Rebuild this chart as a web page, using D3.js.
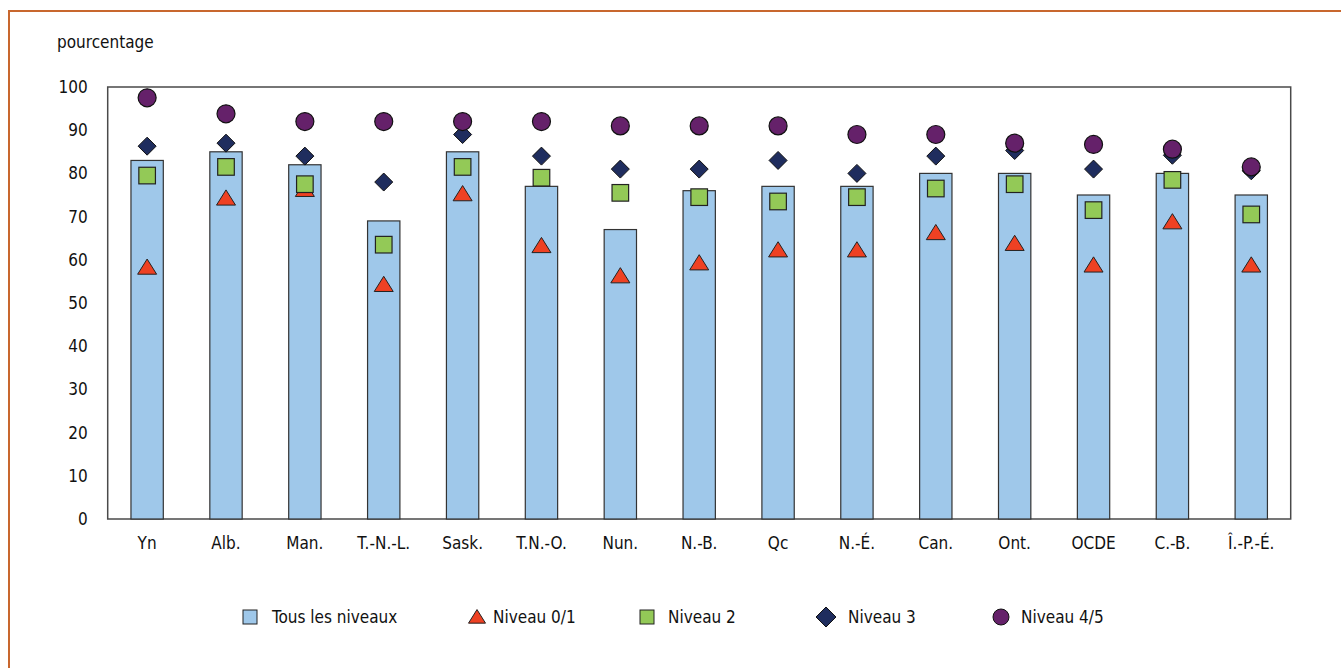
<!DOCTYPE html>
<html><head><meta charset="utf-8">
<script src="https://cdn.jsdelivr.net/npm/d3@7"></script>
<style>
html,body{margin:0;padding:0;background:#fff;}
svg text{font-family:"Liberation Sans Narrow","DejaVu Sans Condensed","Arial Narrow",sans-serif;fill:#111;}
</style></head>
<body>
<svg id="chart" width="1341" height="668"></svg>
<script>
const categories = ["Yn","Alb.","Man.","T.-N.-L.","Sask.","T.N.-O.","Nun.","N.-B.","Qc","N.-É.","Can.","Ont.","OCDE","C.-B.","Î.-P.-É."];
const tousNiveaux = [83,85,82,69,85,77,67,76,77,77,80,80,75,80,75];
const niveau01 = [58,74,76,54,75,63,56,59,62,62,66,63.5,58.5,68.5,58.5];
const niveau2 = [79.5,81.5,77.5,63.5,81.5,79,75.5,74.5,73.5,74.5,76.5,77.5,71.5,78.5,70.5];
const niveau3 = [86.3,87,84,78,89,84,81,81,83,80,84,85.3,81,84.2,80.6];
const niveau45 = [97.5,93.8,92,92,92,92,91,91,91,89,89,87,86.7,85.6,81.5];
const yTicks = [0,10,20,30,40,50,60,70,80,90,100];
const legendLabels = ["Tous les niveaux","Niveau 0/1","Niveau 2","Niveau 3","Niveau 4/5"];

const svg = d3.select("#chart");
const plot = {left:107.7, right:1290.7, top:87, bottom:519};

// outer frame
svg.append("rect").attr("x",9).attr("y",11).attr("width",1340).attr("height",670)
  .attr("fill","none").attr("stroke","#c8672e").attr("stroke-width",2);

const x = d3.scaleBand().domain(categories).range([plot.left, plot.right])
  .paddingInner(0.59).paddingOuter(0.295);
const y = d3.scaleLinear().domain([0,100]).range([plot.bottom, plot.top]);

// plot frame
svg.append("rect").attr("x",plot.left).attr("y",plot.top)
  .attr("width",plot.right-plot.left).attr("height",plot.bottom-plot.top)
  .attr("fill","none").attr("stroke","#4a4a4a").attr("stroke-width",1.5);

// y axis
const yAxis = d3.axisLeft(y).tickValues(yTicks).tickSize(0).tickPadding(20);
const gy = svg.append("g").attr("transform",`translate(${plot.left},0)`).call(yAxis);
gy.select(".domain").remove();
gy.selectAll("text").style("font-size","17px").attr("fill","#111");

// x axis
const xAxis = d3.axisBottom(x).tickSize(0).tickPadding(18);
const gx = svg.append("g").attr("transform",`translate(0,${plot.bottom})`).call(xAxis);
gx.select(".domain").remove();
gx.selectAll("text").style("font-size","17px").attr("fill","#111");

svg.append("text").attr("x",57).attr("y",48).text("pourcentage").style("font-size","17px");

// bars
svg.append("g").selectAll("rect").data(categories).join("rect")
  .attr("x",d=>x(d)).attr("width",x.bandwidth())
  .attr("y",(d,i)=>y(tousNiveaux[i])).attr("height",(d,i)=>y(0)-y(tousNiveaux[i]))
  .attr("fill","#9fc8ea").attr("stroke","#333").attr("stroke-width",1.2);

const cx = d=>x(d)+x.bandwidth()/2;
const colors = {bar:"#9fc8ea", tri:"#ee4123", sq:"#93c957", dia:"#1f2d5e", circ:"#65216a"};

function triPath(s){const h=s*0.8; return `M0,${-h*0.62}L${s/2},${h*0.38}L${-s/2},${h*0.38}Z`;}
function diaPath(s){const h=s/2; return `M0,${-h}L${h},0L0,${h}L${-h},0Z`;}

// triangles
svg.append("g").selectAll("path").data(categories).join("path")
  .attr("d",triPath(19))
  .attr("transform",(d,i)=>`translate(${cx(d)},${y(niveau01[i])})`)
  .attr("fill",colors.tri).attr("stroke","#222").attr("stroke-width",1);
// squares
svg.append("g").selectAll("rect").data(categories).join("rect")
  .attr("x",d=>cx(d)-8.3).attr("y",(d,i)=>y(niveau2[i])-8.3)
  .attr("width",16.6).attr("height",16.6)
  .attr("fill",colors.sq).attr("stroke","#222").attr("stroke-width",1.2);
// diamonds
svg.append("g").selectAll("path").data(categories).join("path")
  .attr("d",diaPath(18))
  .attr("transform",(d,i)=>`translate(${cx(d)},${y(niveau3[i])})`)
  .attr("fill",colors.dia).attr("stroke","#111").attr("stroke-width",1);
// circles
svg.append("g").selectAll("circle").data(categories).join("circle")
  .attr("cx",cx).attr("cy",(d,i)=>y(niveau45[i])).attr("r",9)
  .attr("fill",colors.circ).attr("stroke","#111").attr("stroke-width",1.2);

// legend
const legX = [250,477,647,826,1001];
const ly = 617;
const lg = svg.append("g");
lg.append("rect").attr("x",legX[0]-7).attr("y",ly-7).attr("width",14).attr("height",14)
  .attr("fill",colors.bar).attr("stroke","#222").attr("stroke-width",1);
lg.append("path").attr("d",triPath(17)).attr("transform",`translate(${legX[1]},${ly+1})`)
  .attr("fill",colors.tri).attr("stroke","#222").attr("stroke-width",1);
lg.append("rect").attr("x",legX[2]-7).attr("y",ly-7).attr("width",14).attr("height",14)
  .attr("fill",colors.sq).attr("stroke","#222").attr("stroke-width",1);
lg.append("path").attr("d",diaPath(20)).attr("transform",`translate(${legX[3]},${ly})`)
  .attr("fill",colors.dia).attr("stroke","#111").attr("stroke-width",1);
lg.append("circle").attr("cx",legX[4]).attr("cy",ly).attr("r",8)
  .attr("fill",colors.circ).attr("stroke","#111").attr("stroke-width",1);
legendLabels.forEach((t,i)=>{
  lg.append("text").attr("x",legX[i]+[22,16,21,22,20][i]).attr("y",ly+6).text(t).style("font-size","17px");
});
</script>
</body></html>
